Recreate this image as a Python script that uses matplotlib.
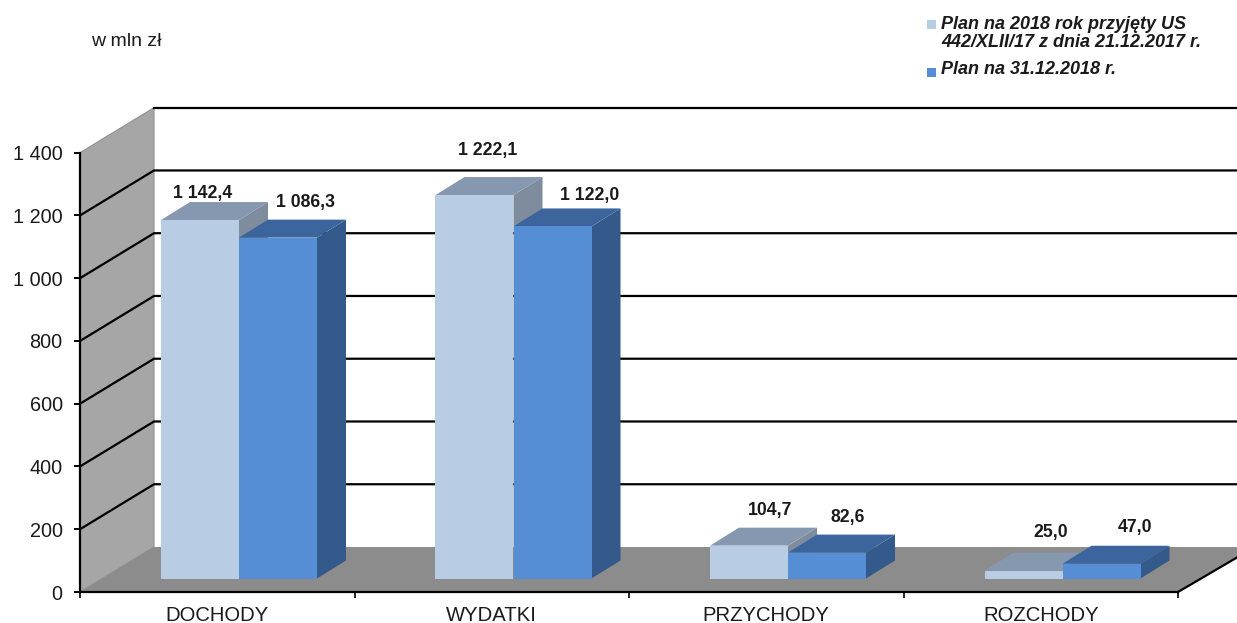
"""
Plan budzetu 2018 - wykres slupkowy 3D rysowany recznie w matplotlib
"""

import matplotlib
matplotlib.use("Agg")
import matplotlib.pyplot as plt
from matplotlib.patches import Polygon, Rectangle

categories = ["DOCHODY", "WYDATKI", "PRZYCHODY", "ROZCHODY"]
plan_initial = [1142.4, 1222.1, 104.7, 25.0]
plan_final = [1086.3, 1122.0, 82.6, 47.0]
y_ticks = [0, 200, 400, 600, 800, 1000, 1200, 1400]
legend_labels = ["Plan na 2018 rok przyjęty US\n442/XLII/17 z dnia 21.12.2017 r.", "Plan na 31.12.2018 r."]
unit_label = "w mln zł"

W, H = 1237, 623

# front plane of the chart, in pixels
LEFT, RIGHT, BASE, TOP = 80, 1178, 592, 152.7
PX_X = (RIGHT - LEFT) / len(categories)
PX_Y = (BASE - TOP) / 1400

# depth of the walls and of the bars
WALL_DX, WALL_DY = 74 / PX_X, 45 / PX_Y
BAR_DX, BAR_DY = 29 / PX_X, 18 / PX_Y
BAR_BASE = 13.5 / PX_Y
BAR_START = 81 / PX_X
BAR_W = 78 / PX_X

# label offsets from the middle of the bar front top, in pixels
offsets_initial = [(3, 27), (13, 45), (21, 35), (27, 38)]
offsets_final = [(27, 35), (37, 31), (21, 35), (33, 36)]

COL_INITIAL = ("#b8cce4", "#8598b0", "#7e8c9e")
COL_FINAL = ("#558ed5", "#3b659c", "#335a8a")
TEXT = "#1a1a1a"

plt.rcParams["font.family"] = ["Liberation Sans", "DejaVu Sans"]


def fx(px):
    return px / W


def fy(py):
    return 1 - py / H


def draw_bar(ax, x0, value, colors):
    y0, y1 = BAR_BASE, BAR_BASE + value
    x1 = x0 + BAR_W
    ax.add_patch(Polygon([(x1, y0), (x1 + BAR_DX, y0 + BAR_DY), (x1 + BAR_DX, y1 + BAR_DY), (x1, y1)],
                         fc=colors[2], ec="none", clip_on=False, zorder=5))
    ax.add_patch(Polygon([(x0, y1), (x1, y1), (x1 + BAR_DX, y1 + BAR_DY), (x0 + BAR_DX, y1 + BAR_DY)],
                         fc=colors[1], ec="none", clip_on=False, zorder=5))
    ax.add_patch(Rectangle((x0, y0), BAR_W, value, fc=colors[0], ec="none", clip_on=False, zorder=5))


def label_bar(ax, x0, value, offset):
    text = f"{value:,.1f}".replace(",", " ").replace(".", ",")
    ax.annotate(text, (x0 + BAR_W / 2, BAR_BASE + value), xytext=offset, textcoords="offset pixels",
                ha="center", va="center", fontsize=12.7, fontweight="bold", color=TEXT,
                annotation_clip=False, zorder=8)


fig = plt.figure(figsize=(W / 100, H / 100), dpi=100)
ax = fig.add_axes([fx(LEFT), fy(BASE), (RIGHT - LEFT) / W, (BASE - TOP) / H])
ax.set_xlim(0, len(categories))
ax.set_ylim(0, 1400)

# everything past the right edge of the figure just gets cut off
x_end = (W - LEFT) / PX_X

# side wall and floor
ax.add_patch(Polygon([(0, 0), (WALL_DX, WALL_DY), (WALL_DX, 1400 + WALL_DY), (0, 1400)],
                     fc="#a6a6a6", ec="#8f8f8f", lw=0.8, clip_on=False, zorder=1))
ax.add_patch(Polygon([(0, 0), (WALL_DX, WALL_DY), (x_end, WALL_DY), (x_end, 110), (len(categories), 0)],
                     fc="#8c8c8c", ec="none", clip_on=False, zorder=1))

# grid, goes along the side wall then along the back; the top one has only the back part
for v in y_ticks[1:]:
    if v == y_ticks[-1]:
        ax.plot([WALL_DX, x_end], [v + WALL_DY, v + WALL_DY], color="black", lw=1.6, clip_on=False, zorder=2)
    else:
        ax.plot([0, WALL_DX, x_end], [v, v + WALL_DY, v + WALL_DY], color="black", lw=1.6,
                clip_on=False, zorder=2, solid_joinstyle="miter")
ax.plot([len(categories), x_end], [0, 110], color="black", lw=1.6, clip_on=False, zorder=2)

for i in range(len(categories)):
    draw_bar(ax, i + BAR_START, plan_initial[i], COL_INITIAL)
    draw_bar(ax, i + BAR_START + BAR_W, plan_final[i], COL_FINAL)

for i in range(len(categories)):
    label_bar(ax, i + BAR_START, plan_initial[i], offsets_initial[i])
    label_bar(ax, i + BAR_START + BAR_W, plan_final[i], offsets_final[i])

# axes
for side in ["top", "right"]:
    ax.spines[side].set_visible(False)
for side in ["left", "bottom"]:
    ax.spines[side].set_linewidth(1.6)
    ax.spines[side].set_zorder(4)
ax.patch.set_visible(False)

ax.set_yticks(y_ticks)
ax.set_yticklabels([f"{v:,}".replace(",", " ") for v in y_ticks], fontsize=14.3, color=TEXT)
ax.tick_params(axis="y", length=4.5, width=1.4, pad=8)

ax.set_xticks(range(len(categories) + 1))
ax.set_xticklabels([])
ax.tick_params(axis="x", which="major", length=4.5, width=1.2)
ax.set_xticks([i + 0.5 for i in range(len(categories))], minor=True)
ax.set_xticklabels(categories, minor=True, fontsize=14.6, color=TEXT)
ax.tick_params(axis="x", which="minor", length=0, pad=10)

# unit and legend
fig.text(fx(91), fy(41), unit_label, fontsize=14, color=TEXT, va="center", ha="left")

for py, col in zip([24, 72], [COL_INITIAL[0], COL_FINAL[0]]):
    fig.patches.append(Rectangle((fx(927), fy(py + 4.5)), 9 / W, 9 / H, transform=fig.transFigure,
                                 fc=col, ec="none"))
fig.text(fx(941), fy(33.5), legend_labels[0], fontsize=13, fontweight="bold", fontstyle="italic",
         color=TEXT, va="center", ha="left", linespacing=1.08)
fig.text(fx(941), fy(70), legend_labels[1], fontsize=13, fontweight="bold", fontstyle="italic",
         color=TEXT, va="center", ha="left")

fig.savefig("out.png", dpi=100)
